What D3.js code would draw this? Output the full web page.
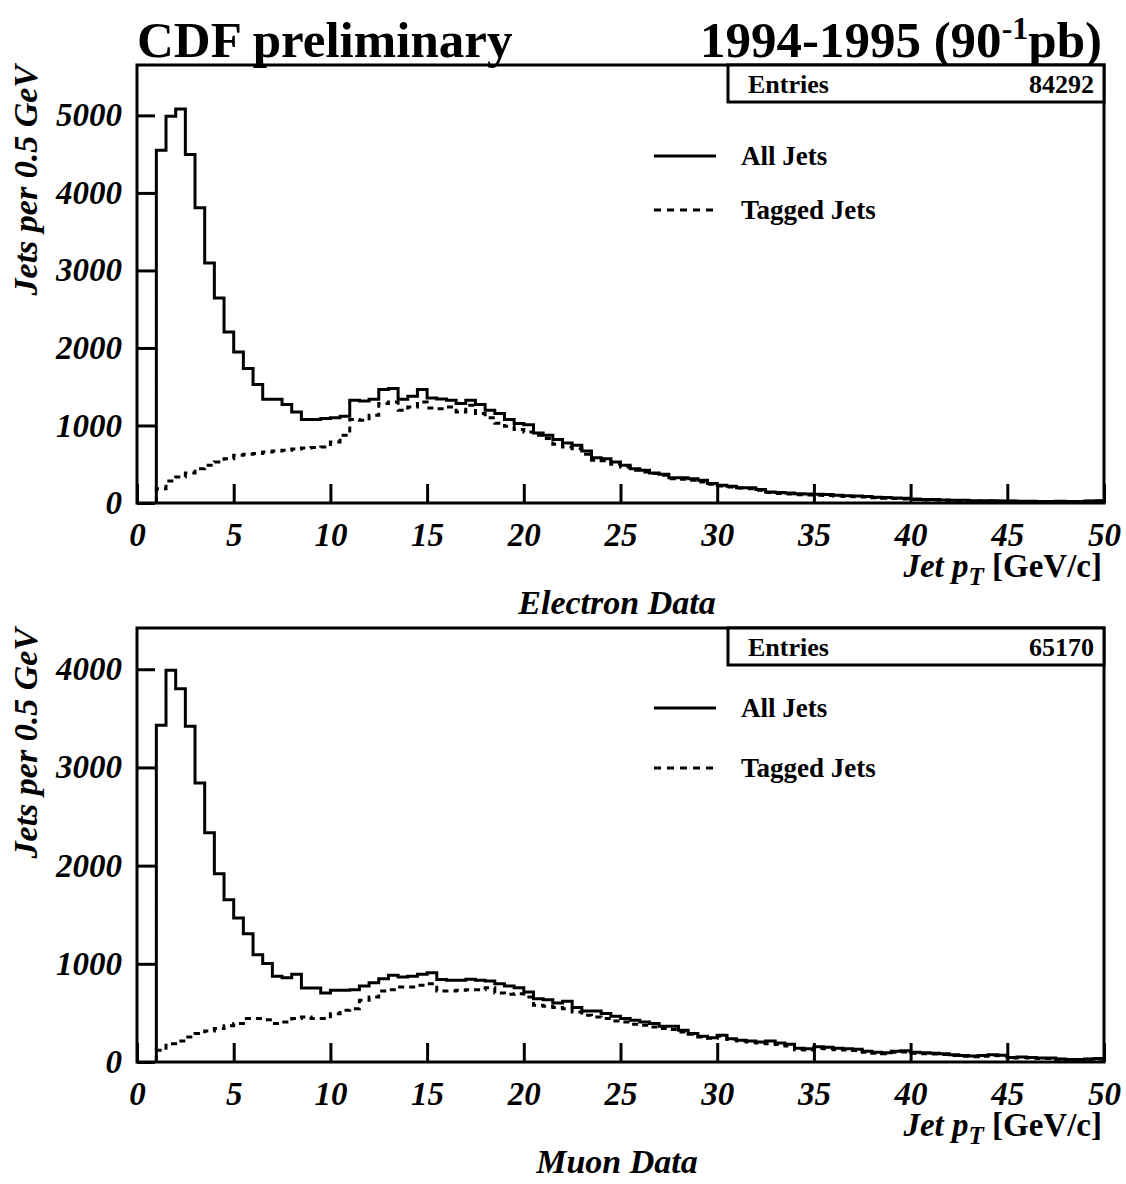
<!DOCTYPE html>
<html>
<head>
<meta charset="utf-8">
<script src="https://cdn.jsdelivr.net/npm/d3@7"></script>
<style>
  body { margin: 0; background: #fff; }
  svg text { font-family: "Liberation Serif", "Times New Roman", serif; font-weight: bold; fill: #000; }
</style>
</head>
<body>
<div id="chart"></div>
<script>
// bins are 0.5 GeV wide, first bin starts at 1 GeV
const binStarts = d3.range(1, 50, 0.5);
const xTicks = [0, 5, 10, 15, 20, 25, 30, 35, 40, 45, 50];
const electronTicks = [0, 1000, 2000, 3000, 4000, 5000];
const muonTicks = [0, 1000, 2000, 3000, 4000];

// electron data, jets per bin
const electronAll = [
  4550, 4990, 5084, 4495, 3807, 3097, 2645, 2206, 1948, 1734, 1528, 1338, 1338, 1269, 1174, 1076, 1076,
  1090, 1101, 1118, 1325, 1316, 1338, 1463, 1476, 1338, 1376, 1463, 1355, 1342, 1325, 1282, 1325, 1269,
  1196, 1153, 1076, 1024, 1011, 903, 873, 818, 774, 744, 671, 585, 572, 529, 486, 443, 421, 387, 370,
  327, 327, 314, 293, 250, 228, 215, 198, 198, 173, 142,
  135, 130, 120, 115, 112, 110, 100, 95, 90, 85, 75, 70, 65, 60, 50, 45, 45, 40, 35, 35, 30, 30, 28,
  25, 25, 22, 22, 20, 20, 22, 18, 20, 25, 30
];
const electronTagged = [
  185, 284, 336, 387, 443, 486, 529, 572, 615, 628, 637, 658, 671, 680, 697, 710, 715,
  723, 787, 873, 1076, 1067, 1131, 1282, 1303, 1196, 1239, 1303, 1226, 1217, 1239, 1174, 1261, 1153,
  1100, 1030, 990, 947, 916, 873, 831, 757, 723, 701, 628, 551, 546, 499, 465, 421, 400, 379, 357,
  314, 305, 293, 271, 241, 220, 207, 194, 185, 164, 134,
  122, 117, 108, 104, 100, 98, 90, 85, 80, 76, 67, 62, 58, 53, 45, 40, 40, 35, 31, 31, 27, 26, 25,
  22, 22, 19, 19, 17, 17, 19, 16, 17, 22, 26
];

// muon data, jets per bin
const muonAll = [
  3429, 3989, 3802, 3419, 2841, 2336, 1918, 1653, 1467, 1307, 1093, 1002, 873, 859, 893, 754, 754,
  703, 730, 730, 737, 774, 808, 849, 883, 866, 873, 893, 910, 839, 832, 832, 842, 832,
  825, 798, 774, 757, 713, 645, 635, 601, 618, 554, 519, 519, 493, 465, 442, 425, 407, 391, 364,
  364, 323, 289, 262, 248, 272, 238, 221, 214, 204, 214, 194, 180,
  140, 135, 155, 150, 140, 135, 130, 110, 100, 95, 110, 115, 100, 95, 90, 85, 75, 65, 60, 65, 75,
  70, 45, 50, 45, 40, 40, 30, 25, 25, 30, 35
];
const muonTagged = [
  119, 187, 214, 255, 289, 316, 340, 370, 391, 442, 442, 431, 391, 407, 442, 458, 442,
  442, 492, 526, 543, 628, 662, 723, 737, 764, 764, 781, 798, 723, 723, 730, 737, 737,
  757, 703, 689, 696, 662, 577, 567, 554, 543, 509, 475, 458, 442, 418, 407, 384, 374, 357, 340,
  330, 306, 282, 255, 241, 262, 228, 214, 204, 194, 187, 177, 163,
  126, 121, 140, 135, 126, 121, 117, 99, 90, 85, 99, 103, 90, 85, 81, 76, 67, 58, 54, 58, 67,
  63, 40, 45, 40, 36, 36, 27, 22, 22, 27, 31
];

const width = 1126, height = 1184;
const svg = d3.select('#chart').append('svg')
  .attr('width', width)
  .attr('height', height);

const x = d3.scaleLinear().domain([0, 50]).range([137, 1104]);

// turn bin contents into a step outline
function stepPoints(values) {
  const pts = [[binStarts[0], 0]];
  values.forEach((v, i) => pts.push([binStarts[i], v]));
  pts.push([50, values[values.length - 1]]);
  return pts;
}

function renderPanel(p) {
  const y = d3.scaleLinear().domain([0, p.yMax]).range([p.bottom, p.top]);
  const g = svg.append('g');

  // x axis ticks + labels
  const xAxis = d3.axisBottom(x).tickValues(xTicks).tickSizeInner(-19).tickSizeOuter(0).tickPadding(20);
  const gx = g.append('g').attr('transform', `translate(0,${p.bottom})`).call(xAxis);
  gx.select('.domain').remove();
  gx.selectAll('line').attr('stroke', '#000').attr('stroke-width', 3);
  gx.selectAll('text').style('font-size', '33px').style('font-style', 'italic');

  // y axis ticks + labels
  const yAxis = d3.axisLeft(y).tickValues(p.yTicks).tickSizeInner(-18).tickSizeOuter(0).tickPadding(15)
    .tickFormat(d3.format('d'));
  const gy = g.append('g').attr('transform', `translate(${x(0)},0)`).call(yAxis);
  gy.select('.domain').remove();
  gy.selectAll('line').attr('stroke', '#000').attr('stroke-width', 3);
  gy.selectAll('text').style('font-size', '33px').style('font-style', 'italic');

  const line = d3.line()
    .x(d => x(d[0]))
    .y(d => y(d[1]))
    .curve(d3.curveStepAfter);

  g.append('path')
    .attr('d', line(stepPoints(p.tagged)))
    .attr('fill', 'none')
    .attr('stroke', '#000')
    .attr('stroke-width', 3)
    .attr('stroke-dasharray', '6,5');

  g.append('path')
    .attr('d', line(stepPoints(p.all)))
    .attr('fill', 'none')
    .attr('stroke', '#000')
    .attr('stroke-width', 3);

  // frame
  g.append('rect')
    .attr('x', x(0)).attr('y', p.top)
    .attr('width', x(50) - x(0)).attr('height', p.bottom - p.top)
    .attr('fill', 'none').attr('stroke', '#000').attr('stroke-width', 3);

  // stats box
  g.append('rect')
    .attr('x', 728).attr('y', p.top)
    .attr('width', x(50) - 728).attr('height', 37)
    .attr('fill', '#fff').attr('stroke', '#000').attr('stroke-width', 3);
  g.append('text').attr('x', 748).attr('y', p.top + 28).style('font-size', '26px').text('Entries');
  g.append('text').attr('x', 1094).attr('y', p.top + 28).attr('text-anchor', 'end')
    .style('font-size', '26px').text(p.entries);

  // legend
  g.append('line').attr('x1', 654).attr('x2', 716).attr('y1', p.legendY[0]).attr('y2', p.legendY[0])
    .attr('stroke', '#000').attr('stroke-width', 3);
  g.append('text').attr('x', 741).attr('y', p.legendY[0] + 9).style('font-size', '27px').text('All Jets');
  g.append('line').attr('x1', 654).attr('x2', 716).attr('y1', p.legendY[1]).attr('y2', p.legendY[1])
    .attr('stroke', '#000').attr('stroke-width', 3).attr('stroke-dasharray', '7,6');
  g.append('text').attr('x', 741).attr('y', p.legendY[1] + 9).style('font-size', '27px').text('Tagged Jets');

  // y title
  g.append('text')
    .attr('transform', `translate(37,${p.top}) rotate(-90)`)
    .attr('text-anchor', 'end')
    .style('font-size', '34px').style('font-style', 'italic')
    .text('Jets per 0.5 GeV');

  // x title
  const xt = g.append('text')
    .attr('x', 1102).attr('y', p.bottom + 74)
    .attr('text-anchor', 'end')
    .style('font-size', '33px');
  xt.append('tspan').style('font-style', 'italic').text('Jet p');
  xt.append('tspan').style('font-style', 'italic').style('font-size', '25px').attr('dy', 8).text('T');
  xt.append('tspan').attr('dy', -8).text(' [GeV/c]');

  // sample name
  g.append('text')
    .attr('x', 617).attr('y', p.bottom + 111)
    .attr('text-anchor', 'middle')
    .style('font-size', '34px').style('font-style', 'italic')
    .text(p.name);
}

// header
svg.append('text').attr('x', 137).attr('y', 57).style('font-size', '51px').text('CDF preliminary');
const hdr = svg.append('text').attr('x', 1102).attr('y', 57).attr('text-anchor', 'end').style('font-size', '51px');
hdr.append('tspan').text('1994-1995 (90');
hdr.append('tspan').style('font-size', '32px').attr('dy', -18).text('-1');
hdr.append('tspan').attr('dy', 18).text('pb)');

renderPanel({
  top: 65, bottom: 503, yMax: 5650, yTicks: electronTicks,
  all: electronAll, tagged: electronTagged, entries: '84292',
  legendY: [156, 210], name: 'Electron Data'
});
renderPanel({
  top: 628, bottom: 1062, yMax: 4420, yTicks: muonTicks,
  all: muonAll, tagged: muonTagged, entries: '65170',
  legendY: [708, 768], name: 'Muon Data'
});
</script>
</body>
</html>
